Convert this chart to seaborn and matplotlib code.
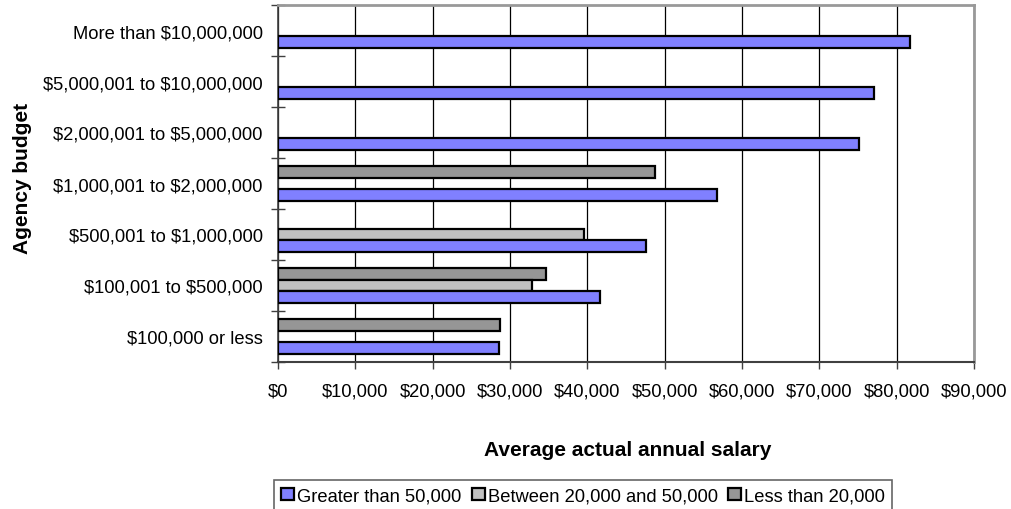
import numpy as np
import pandas as pd
import matplotlib
matplotlib.use("Agg")
import matplotlib.pyplot as plt
from matplotlib.patches import Patch
from matplotlib.ticker import FuncFormatter, FixedLocator
import seaborn as sns

# Budget categories, listed top to bottom
budgets = [
    "More than $10,000,000",
    "$5,000,001 to $10,000,000",
    "$2,000,001 to $5,000,000",
    "$1,000,001 to $2,000,000",
    "$500,001 to $1,000,000",
    "$100,001 to $500,000",
    "$100,000 or less",
]

# Average actual annual salary by population served (None = no data)
greater_50k = [81700, 77100, 75100, 56800, 47600, 41700, 28600]
between_20k_50k = [None, None, None, None, 39600, 32900, None]
less_20k = [None, None, None, 48750, None, 34600, 28700]

series_names = ["Greater than 50,000", "Between 20,000 and 50,000", "Less than 20,000"]
series_values = [greater_50k, between_20k_50k, less_20k]
series_colors = ["#8080FF", "#C0C0C0", "#969696"]

rows = []
for name, vals in zip(series_names, series_values):
    for b, v in zip(budgets, vals):
        if v is not None:
            rows.append({"budget": b, "population": name, "salary": v})
df = pd.DataFrame(rows)

sns.set_theme(style="white")
plt.rcParams["font.family"] = ["Liberation Sans", "DejaVu Sans"]
plt.rcParams["text.parse_math"] = False
plt.rcParams["text.color"] = "black"
plt.rcParams["axes.labelcolor"] = "black"
plt.rcParams["xtick.color"] = "black"
plt.rcParams["ytick.color"] = "black"

FS = 13.2

fig = plt.figure(figsize=(10.11, 5.10), dpi=100)
ax = fig.add_axes([278 / 1011, 1 - 363 / 510, 696 / 1011, 357 / 510])

# Draw the smallest population first so it sits at the top of each group
hue_order = series_names[::-1]
palette = dict(zip(series_names, series_colors))
sns.barplot(
    data=df, y="budget", x="salary", hue="population",
    order=budgets, hue_order=hue_order, palette=palette,
    orient="h", dodge=True, width=0.667, saturation=1,
    edgecolor="black", linewidth=1.6, legend=False, ax=ax, zorder=3,
)

ax.set_xlim(0, 90000)
ax.set_ylim(len(budgets) - 0.5, -0.5)
ax.xaxis.set_major_locator(FixedLocator(np.arange(0, 90001, 10000)))
ax.xaxis.set_major_formatter(FuncFormatter(lambda x, p: f"${x:,.0f}"))
ax.grid(axis="x", color="black", linewidth=0.9, zorder=0)
ax.grid(axis="y", visible=False)
ax.set_axisbelow(True)

# Category separators as crossing ticks on the value axis
ax.yaxis.set_minor_locator(FixedLocator(np.arange(-0.5, len(budgets), 1.0)))
ax.tick_params(axis="y", which="major", length=0, pad=11, labelsize=FS)
ax.tick_params(axis="y", which="minor", length=10, width=1, direction="inout",
               color="#404040", left=True)
ax.tick_params(axis="x", which="major", length=5, width=1, direction="out",
               color="#404040", bottom=True, pad=10, labelsize=FS)

for side in ["top", "right"]:
    ax.spines[side].set_color("#999999")
    ax.spines[side].set_linewidth(2)
ax.spines["left"].set_color("#404040")
ax.spines["left"].set_linewidth(1.2)
ax.spines["bottom"].set_color("#404040")
ax.spines["bottom"].set_linewidth(1.5)

ax.set_xlabel("Average actual annual salary", fontsize=15, fontweight="bold")
ax.xaxis.set_label_coords((628 - 278) / 696, (363 - 451) / 357)
ax.set_ylabel("Agency budget", fontsize=15, fontweight="bold")
ax.yaxis.set_label_coords((23 - 278) / 696, (363 - 178) / 357)
ax.xaxis.label.set_verticalalignment("center")
ax.yaxis.label.set_verticalalignment("center")

handles = [Patch(facecolor=c, edgecolor="black", linewidth=1.6) for c in series_colors]
leg = fig.legend(
    handles, series_names, loc="upper left",
    bbox_to_anchor=(274 / 1011, 1 - 481 / 510), ncol=3,
    fontsize=FS, frameon=True, fancybox=False, borderaxespad=0,
    handlelength=0.7, handleheight=0.7, handletextpad=0.18,
    columnspacing=0.55, borderpad=0.4,
)
leg.get_frame().set_edgecolor("#404040")
leg.get_frame().set_linewidth(1.2)

fig.savefig("out.png", dpi=100)
